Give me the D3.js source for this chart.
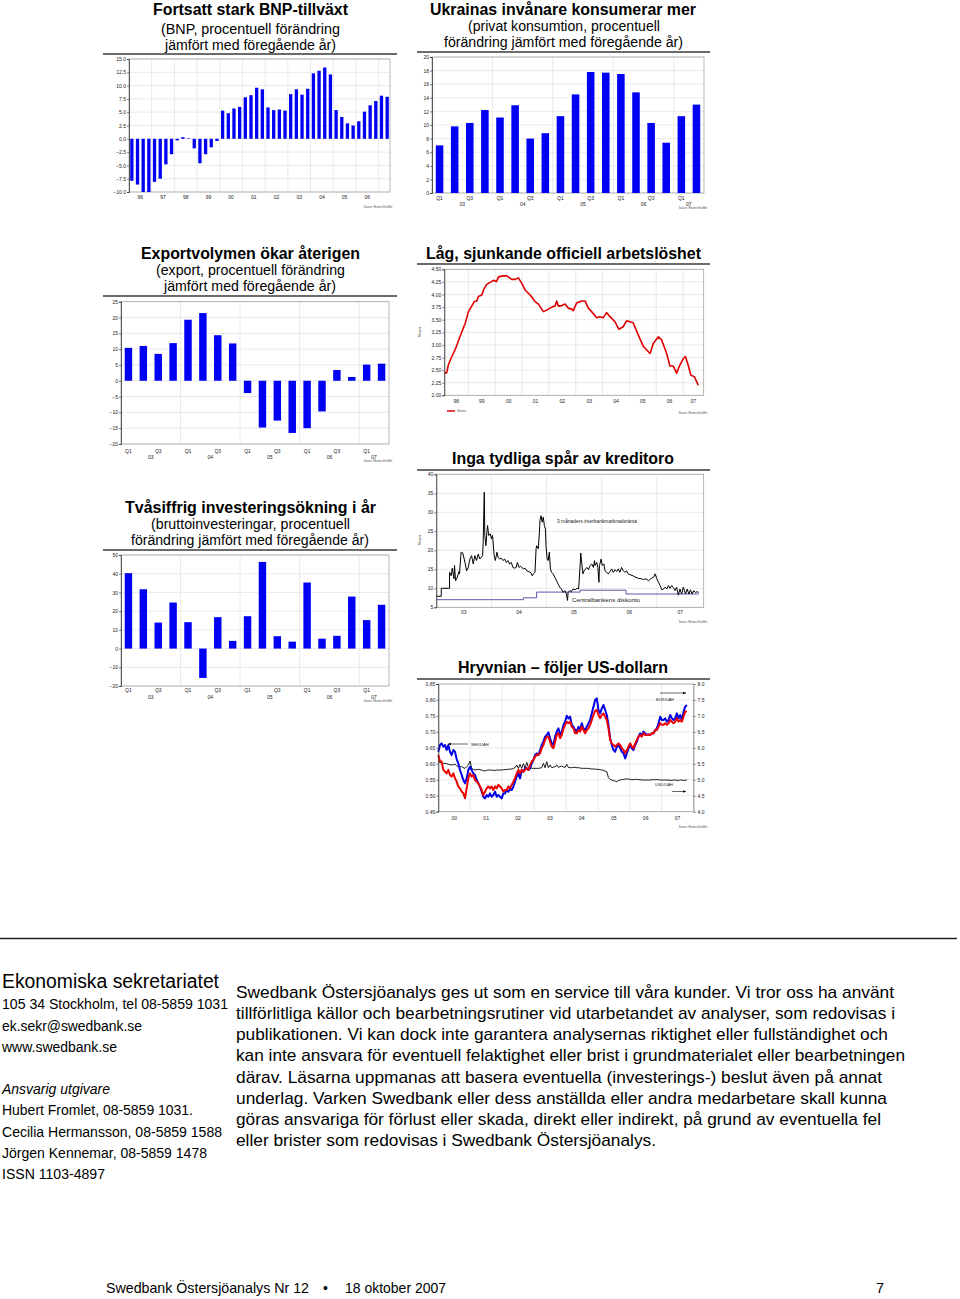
<!DOCTYPE html>
<html><head><meta charset="utf-8">
<script src="https://cdn.jsdelivr.net/npm/d3@7"></script>
<style>body{margin:0;background:#fff}svg{display:block}text{font-family:"Liberation Sans",Arial,Helvetica,sans-serif}</style>
</head><body>
<svg id="page" width="960" height="1299"></svg>
<script>
// ---------------- DATA ----------------
const gdpYears = ["96","97","98","99","00","01","02","03","04","05","06","07"];
const gdpValues = [-7.9,-8.6,-10.0,-10.0, -8.1,-7.5,-4.8,-2.9, -0.3,0.3,0.1,-1.8, -4.6,-2.9,-1.6,-0.4,
  5.3,4.8,5.7,6.0, 7.8,8.2,9.6,9.3, 5.9,5.4,5.5,5.3, 8.4,9.3,8.3,9.4, 12.3,12.8,13.4,12.1,
  5.4,4.1,2.9,2.5, 3.3,5.1,6.3,7.1, 8.1,7.9];
const gdpTicks = [-10,-7.5,-5,-2.5,0,2.5,5,7.5,10,12.5,15];

const qYears = ["03","04","05","06","07"];
const quarterCats = ["03Q1","03Q2","03Q3","03Q4","04Q1","04Q2","04Q3","04Q4","05Q1","05Q2","05Q3","05Q4","06Q1","06Q2","06Q3","06Q4","07Q1","07Q2"];
const consValues = [7.0,9.8,10.3,12.2,11.1,12.9,8.0,8.8,11.3,14.5,17.8,17.7,17.5,14.8,10.3,7.4,11.3,13.0];
const consTicks = [0,2,4,6,8,10,12,14,16,18,20];
const expValues = [10.4,11.0,8.5,11.9,19.3,21.4,14.4,11.8,-3.9,-14.8,-12.6,-16.5,-15.0,-9.7,3.4,1.2,5.1,5.4];
const expTicks = [-20,-15,-10,-5,0,5,10,15,20,25];
const invValues = [40.3,31.7,13.9,24.6,14.1,-15.7,16.8,4.1,17.3,46.3,6.6,3.7,35.3,5.3,6.8,27.8,15.2,23.4];
const invTicks = [-20,-10,0,10,20,30,40,50];

// unemployment [year, percent]
const unemployment = [[1998.11,2.44],[1998.19,2.45],[1998.25,2.60],[1998.38,2.77],[1998.50,2.90],[1998.69,3.17],[1998.88,3.43],[1999.00,3.66],[1999.12,3.77],[1999.22,3.86],
 [1999.31,3.87],[1999.37,3.96],[1999.50,3.99],[1999.56,4.09],[1999.68,4.20],[1999.81,4.24],[1999.93,4.28],[2000.05,4.26],[2000.12,4.35],[2000.30,4.37],
 [2000.43,4.37],[2000.51,4.34],[2000.61,4.30],[2000.74,4.30],[2000.86,4.33],[2000.99,4.22],[2001.11,4.09],[2001.30,3.99],[2001.48,3.86],[2001.61,3.81],
 [2001.79,3.66],[2001.92,3.69],[2002.04,3.73],[2002.16,3.76],[2002.23,3.77],[2002.29,3.87],[2002.35,3.77],[2002.48,3.78],[2002.60,3.81],[2002.72,3.73],
 [2002.85,3.71],[2002.91,3.68],[2003.03,3.83],[2003.22,3.87],[2003.35,3.87],[2003.47,3.73],[2003.59,3.66],[2003.78,3.54],[2003.90,3.56],[2004.03,3.54],
 [2004.15,3.64],[2004.28,3.56],[2004.46,3.46],[2004.61,3.31],[2004.77,3.36],[2004.90,3.48],[2005.02,3.46],[2005.14,3.44],[2005.33,3.20],[2005.52,2.97],
 [2005.70,2.87],[2005.77,2.83],[2005.89,3.03],[2006.08,3.16],[2006.20,3.10],[2006.39,2.83],[2006.51,2.58],[2006.64,2.58],[2006.76,2.44],[2006.88,2.60],
 [2007.01,2.73],[2007.09,2.77],[2007.19,2.60],[2007.29,2.40],[2007.42,2.37],[2007.57,2.20]];
const unempTicks = [2.00,2.25,2.50,2.75,3.00,3.25,3.50,3.75,4.00,4.25,4.50];
const unempYears = [1998,1999,2000,2001,2002,2003,2004,2005,2006,2007];

// interbank 3M rate [year, percent]
const interbank = [[2002.98,7.9],[2003.09,7.9],[2003.09,10.0],[2003.24,10.0],[2003.24,14.2],[2003.27,13.3],[2003.29,15.3],[2003.32,12.5],[2003.33,16.0],[2003.35,12.0],
 [2003.38,12.9],[2003.41,14.4],[2003.42,13.8],[2003.45,19.5],[2003.48,19.3],[2003.52,16.8],[2003.55,14.6],[2003.58,15.5],[2003.61,17.7],[2003.64,18.6],
 [2003.67,16.4],[2003.70,18.6],[2003.73,17.3],[2003.76,19.0],[2003.79,17.7],[2003.82,18.2],[2003.84,18.6],[2003.85,22.1],[2003.87,35.3],[2003.88,23.9],
 [2003.90,21.2],[2003.92,25.2],[2003.93,26.5],[2003.95,23.9],[2003.98,24.3],[2004.00,23.0],[2004.02,23.9],[2004.05,18.6],[2004.07,17.3],[2004.10,19.5],
 [2004.12,18.2],[2004.15,17.7],[2004.18,17.9],[2004.21,17.3],[2004.24,17.7],[2004.27,16.8],[2004.30,17.3],[2004.33,16.4],[2004.36,16.8],[2004.39,15.5],
 [2004.42,15.3],[2004.45,15.5],[2004.47,16.8],[2004.50,15.5],[2004.53,15.8],[2004.58,15.1],[2004.61,15.3],[2004.64,14.6],[2004.68,14.4],[2004.72,14.0],
 [2004.74,13.3],[2004.76,13.8],[2004.79,14.2],[2004.81,20.4],[2004.82,21.2],[2004.85,20.4],[2004.87,24.7],[2004.88,27.8],[2004.90,29.1],[2004.92,27.4],
 [2004.94,28.7],[2004.96,26.5],[2004.98,25.6],[2004.99,21.2],[2005.01,17.7],[2005.03,17.3],[2005.05,19.5],[2005.07,15.1],[2005.09,14.2],[2005.12,13.8],
 [2005.15,12.9],[2005.18,12.0],[2005.21,11.1],[2005.24,10.3],[2005.27,9.8],[2005.30,8.9],[2005.33,9.4],[2005.36,8.5],[2005.38,6.8],[2005.39,8.9],
 [2005.42,9.4],[2005.45,9.1],[2005.48,9.8],[2005.52,9.6],[2005.55,10.0],[2005.58,9.8],[2005.59,11.6],[2005.61,16.4],[2005.62,19.3],[2005.64,16.4],
 [2005.66,13.8],[2005.68,14.6],[2005.71,15.1],[2005.73,15.5],[2005.76,14.9],[2005.79,16.0],[2005.82,16.4],[2005.85,15.5],[2005.87,17.3],[2005.88,16.0],
 [2005.91,16.8],[2005.93,15.5],[2005.95,11.6],[2005.96,16.0],[2005.99,17.7],[2006.01,16.0],[2006.04,16.4],[2006.06,14.6],[2006.09,14.2],[2006.12,13.8],
 [2006.15,14.4],[2006.18,15.1],[2006.21,14.2],[2006.24,14.9],[2006.27,14.4],[2006.30,15.1],[2006.33,14.2],[2006.36,15.5],[2006.39,14.6],[2006.42,14.2],
 [2006.45,14.6],[2006.48,13.8],[2006.53,13.5],[2006.58,13.2],[2006.62,12.9],[2006.67,12.6],[2006.72,12.5],[2006.76,12.3],[2006.80,12.5],[2006.85,12.0],
 [2006.90,12.6],[2006.94,12.9],[2006.97,13.8],[2007.00,12.5],[2007.03,11.6],[2007.06,10.7],[2007.09,9.6],[2007.12,9.8],[2007.15,10.3],[2007.18,9.8],
 [2007.21,10.7],[2007.24,10.0],[2007.27,10.7],[2007.30,10.2],[2007.33,9.4],[2007.36,10.3],[2007.39,8.2],[2007.42,9.8],[2007.45,8.5],[2007.48,10.3],
 [2007.52,8.5],[2007.55,9.8],[2007.58,8.5],[2007.61,9.6],[2007.64,8.5],[2007.67,9.4],[2007.70,8.9],[2007.73,9.1],[2007.76,8.9]];
const discount = [[2002.98,7.0],[2004.58,7.5],[2004.82,9.0],[2005.61,9.5],[2006.44,8.5],[2007.76,8.5]];
const creditTicks = [5,10,15,20,25,30,35,40];
const creditYears = [2003,2004,2005,2006,2007];

// exchange rates, sampled every fxStep years from fxStart
const fxStart = 2000.0, fxStep = 0.0523;
const sekUah = [0.628,0.607,0.607,0.581,0.576,0.570,0.581,0.565,0.560,0.570, 0.555,0.544,0.529,0.523,0.513,0.508,0.492,0.523,0.555,0.570,
 0.560,0.565,0.549,0.544,0.539,0.529,0.518,0.502,0.513,0.523, 0.529,0.523,0.529,0.518,0.529,0.523,0.534,0.529,0.523,0.513,
 0.518,0.518,0.529,0.523,0.534,0.544,0.555,0.570,0.581,0.570, 0.581,0.576,0.581,0.586,0.581,0.596,0.607,0.612,0.622,0.628,
 0.628,0.633,0.649,0.659,0.675,0.685,0.685,0.669,0.654,0.649, 0.669,0.690,0.696,0.680,0.690,0.709,0.722,0.732,0.727,0.732,
 0.716,0.711,0.696,0.696,0.706,0.701,0.716,0.706,0.696,0.706, 0.711,0.722,0.737,0.753,0.765,0.769,0.753,0.743,0.753,0.758,
 0.748,0.737,0.711,0.675,0.664,0.659,0.654,0.659,0.664,0.659, 0.649,0.643,0.633,0.643,0.654,0.664,0.654,0.649,0.664,0.675,
 0.685,0.690,0.685,0.696,0.690,0.690,0.692,0.690,0.696,0.696, 0.706,0.706,0.716,0.727,0.722,0.722,0.727,0.722,0.727,0.737,
 0.732,0.727,0.732,0.743,0.732,0.737,0.732,0.748,0.763,0.765];
const eurUah = [5.880,6.089,6.141,6.037,6.089,5.932,6.089,5.880,5.775,5.932, 5.880,5.650,5.514,5.305,5.149,4.992,4.888,5.044,5.305,5.410,
 5.305,5.201,5.149,4.992,4.888,4.783,4.627,4.470,4.418,4.522, 4.470,4.574,4.470,4.522,4.627,4.470,4.522,4.470,4.418,4.574,
 4.574,4.679,4.627,4.710,4.679,4.783,4.940,5.097,5.201,5.044, 5.305,5.253,5.358,5.358,5.305,5.358,5.514,5.619,5.775,5.828,
 5.775,5.932,6.089,6.193,6.350,6.402,6.486,6.298,6.141,6.089, 6.350,6.507,6.611,6.402,6.507,6.715,6.820,7.008,6.924,6.977,
 6.715,6.663,6.559,6.507,6.663,6.559,6.768,6.611,6.559,6.663, 6.768,6.872,7.081,7.290,7.499,7.551,7.185,7.081,7.238,7.342,
 7.185,7.029,6.715,6.298,6.089,5.932,5.880,6.037,6.089,5.984, 5.880,5.828,5.671,5.828,5.984,6.089,5.984,5.932,6.089,6.193,
 6.350,6.454,6.402,6.507,6.454,6.402,6.423,6.402,6.454,6.454, 6.559,6.611,6.768,6.977,6.872,6.872,6.924,6.820,6.872,7.029,
 6.924,6.872,6.924,7.081,6.924,7.029,6.872,7.133,7.290,7.342];
const usdUah = [5.567,5.546,5.514,5.514,5.514,5.504,5.483,5.473,5.462,5.473, 5.483,5.441,5.410,5.410,5.410,5.379,5.358,5.410,5.462,5.587,
 5.358,5.326,5.305,5.316,5.326,5.316,5.305,5.285,5.274,5.295, 5.305,5.305,5.305,5.295,5.295,5.305,5.305,5.305,5.305,5.316,
 5.316,5.326,5.326,5.337,5.337,5.358,5.379,5.462,5.358,5.483, 5.358,5.504,5.358,5.546,5.379,5.410,5.358,5.358,5.358,5.358,
 5.358,5.368,5.379,5.514,5.379,5.567,5.379,5.462,5.379,5.399, 5.410,5.462,5.389,5.410,5.431,5.399,5.389,5.483,5.389,5.379,
 5.379,5.389,5.389,5.379,5.379,5.368,5.358,5.358,5.358,5.358, 5.358,5.347,5.337,5.337,5.337,5.326,5.326,5.316,5.305,5.295,
 5.274,5.253,5.065,5.013,4.992,4.971,4.961,4.940,4.982,4.992, 5.003,5.013,5.024,5.024,5.024,5.013,5.003,5.003,5.013,5.013,
 5.003,5.003,4.992,4.992,4.992,4.992,4.992,4.992,5.003,5.003, 5.003,5.003,5.003,4.992,4.992,4.992,4.992,4.992,4.992,4.982,
 4.982,4.992,4.992,4.982,4.982,4.992,4.992,4.982,4.982,5.003];
const fxLeftTicks = [0.45,0.50,0.55,0.60,0.65,0.70,0.75,0.80,0.85];
const fxRightTicks = [4.0,4.5,5.0,5.5,6.0,6.5,7.0,7.5,8.0];
const fxYears = [2000,2001,2002,2003,2004,2005,2006,2007];

// ---------------- HELPERS ----------------
const page = d3.select("#page");
const GRID = "#dcdcdc", FRAME = "#9a9a9a", TICKC = "#222";

function addText(s, x, y, size, o = {}) {
  const t = page.append("text").attr("x", x).attr("y", y).attr("font-size", size).attr("fill", o.fill || "#000").text(s);
  if (o.bold) t.attr("font-weight", "bold");
  if (o.italic) t.attr("font-style", "italic");
  if (o.anchor) t.attr("text-anchor", o.anchor);
  if (o.w) t.attr("textLength", o.w).attr("lengthAdjust", "spacingAndGlyphs");
  if (o.rot) t.attr("transform", `rotate(${o.rot},${x},${y})`);
  return t;
}
function header(lines, ruleY, rx0, rx1) {
  lines.forEach(l => addText(l.s, l.x0, l.y, l.size, {bold: l.bold, w: l.x1 - l.x0}));
  page.append("line").attr("x1", rx0).attr("x2", rx1).attr("y1", ruleY).attr("y2", ruleY)
    .attr("stroke", "#3a3a3a").attr("stroke-width", 1.6);
}
function source(x, y) {
  addText("Source: Reuters EcoWin", x, y, 2.6, {anchor: "middle", fill: "#444"});
}
function styleAxis(g) {
  g.selectAll("text").attr("font-size", 5).attr("fill", TICKC);
  g.selectAll(".tick line").attr("stroke", "#333").attr("stroke-width", 0.6);
  g.select(".domain").attr("stroke", "#333").attr("stroke-width", 0.8);
}
function hGrid(g, y, ticks, x0, x1) {
  g.selectAll(null).data(ticks).join("line").attr("x1", x0).attr("x2", x1)
    .attr("y1", d => y(d)).attr("y2", d => y(d)).attr("stroke", GRID).attr("stroke-width", 0.6);
}
function vGrid(g, xs, y0, y1) {
  g.selectAll(null).data(xs).join("line").attr("x1", d => d).attr("x2", d => d)
    .attr("y1", y0).attr("y2", y1).attr("stroke", GRID).attr("stroke-width", 0.6);
}
function frame(g, x0, x1, yT, yB) {
  g.append("rect").attr("x", x0).attr("y", yT).attr("width", x1 - x0).attr("height", yB - yT)
    .attr("fill", "none").attr("stroke", FRAME).attr("stroke-width", 0.7);
}

function barChart(o) {
  const g = page.append("g");
  const x = d3.scaleBand().domain(o.cats).range([o.x0, o.x1]).paddingInner(o.pad).paddingOuter(o.pad / 2);
  const y = d3.scaleLinear().domain([o.ticks[0], o.ticks[o.ticks.length - 1]]).range([o.yB, o.yT]);
  const cellStart = c => x(c) - x.step() * o.pad / 2;
  hGrid(g, y, o.ticks, o.x0, o.x1);
  const bounds = o.cats.filter((c, i) => i > 0 && c.endsWith("Q1")).map(cellStart);
  vGrid(g, bounds, o.yT, o.yB);
  frame(g, o.x0, o.x1, o.yT, o.yB);
  g.selectAll(null).data(o.cats.map((c, i) => ({c, v: o.values[i]}))).join("rect")
    .attr("x", d => x(d.c)).attr("width", x.bandwidth())
    .attr("y", d => Math.min(y(d.v), y(0))).attr("height", d => Math.abs(y(d.v) - y(0)))
    .attr("fill", "#0000f5");
  const ax = g.append("g").attr("transform", `translate(${o.x0},0)`)
    .call(d3.axisLeft(y).tickValues(o.ticks).tickFormat(o.fmt).tickSize(2).tickPadding(1));
  styleAxis(ax);
  const yearsSeen = [...new Set(o.cats.map(c => c.slice(0, 2)))];
  if (o.quarterLabels) {
    o.cats.forEach(c => {
      const q = c.slice(2);
      if (q === "Q1" || q === "Q3")
        addText(q, x(c) + x.bandwidth() / 2, o.qY, 5, {anchor: "middle", fill: TICKC});
    });
  }
  yearsSeen.forEach((yr, i) => {
    if (o.skipLastYear && i === yearsSeen.length - 1) return;
    const cs = o.cats.filter(c => c.startsWith(yr));
    const a = cellStart(cs[0]), b = cellStart(cs[cs.length - 1]) + x.step();
    addText(yr, (a + b) / 2, o.yrY, 5, {anchor: "middle", fill: TICKC});
  });
}

function yearLabels(x, years, x0, x1, yPos) {
  years.forEach(yr => {
    const a = Math.max(x(yr), x0), b = Math.min(x(yr + 1), x1);
    addText(String(yr).slice(2), (a + b) / 2, yPos, 5, {anchor: "middle", fill: TICKC});
  });
}

// ---------------- CHART 1: BNP ----------------
header([
  {s: "Fortsatt stark BNP-tillväxt", x0: 153, x1: 348, y: 15, size: 16, bold: true},
  {s: "(BNP, procentuell förändring", x0: 161, x1: 340, y: 34, size: 14},
  {s: "jämfört med föregående år)", x0: 165, x1: 336, y: 50, size: 14}
], 54, 103, 397);
barChart({
  cats: gdpYears.flatMap(yy => ["Q1", "Q2", "Q3", "Q4"].map(q => yy + q)).slice(0, gdpValues.length),
  values: gdpValues, ticks: gdpTicks, fmt: d3.format(".1f"),
  x0: 129, x1: 390, yT: 59, yB: 192, pad: 0.42, yrY: 199, skipLastYear: true
});
source(378, 208);

// ---------------- CHART 2: Consumption ----------------
header([
  {s: "Ukrainas invånare konsumerar mer", x0: 430, x1: 696, y: 15, size: 16, bold: true},
  {s: "(privat konsumtion, procentuell", x0: 468, x1: 660, y: 31, size: 14},
  {s: "förändring jämfört med föregående år)", x0: 444, x1: 683, y: 47, size: 14}
], 52, 417, 710);
barChart({cats: quarterCats, values: consValues, ticks: consTicks, fmt: d3.format("d"),
  x0: 432, x1: 704, yT: 57, yB: 193, pad: 0.5, quarterLabels: true, qY: 200, yrY: 206});
source(693, 209);

// ---------------- CHART 3: Export ----------------
header([
  {s: "Exportvolymen ökar återigen", x0: 141, x1: 360, y: 259, size: 16, bold: true},
  {s: "(export, procentuell förändring", x0: 156, x1: 345, y: 275, size: 14},
  {s: "jämfört med föregående år)", x0: 164, x1: 336, y: 291, size: 14}
], 296, 103, 397);
barChart({cats: quarterCats, values: expValues, ticks: expTicks, fmt: d3.format("d"),
  x0: 121, x1: 389, yT: 301.7, yB: 444, pad: 0.5, quarterLabels: true, qY: 453, yrY: 459});
source(378, 462);

// ---------------- CHART 5: Investment ----------------
header([
  {s: "Tvåsiffrig investeringsökning i år", x0: 125, x1: 376, y: 513, size: 16, bold: true},
  {s: "(bruttoinvesteringar, procentuell", x0: 151, x1: 350, y: 529, size: 14},
  {s: "förändring jämfört med föregående år)", x0: 131, x1: 369, y: 545, size: 14}
], 550, 103, 397);
barChart({cats: quarterCats, values: invValues, ticks: invTicks, fmt: d3.format("d"),
  x0: 121, x1: 389, yT: 555, yB: 686, pad: 0.5, quarterLabels: true, qY: 692, yrY: 699});
source(378, 702);

// ---------------- CHART 4: Unemployment ----------------
header([{s: "Låg, sjunkande officiell arbetslöshet", x0: 426, x1: 701, y: 259, size: 16, bold: true}], 264, 417, 710);
(function () {
  const x0 = 444.3, x1 = 703.7, yT = 269.3, yB = 395.3;
  const g = page.append("g");
  const x = d3.scaleLinear().domain([1998.1, 2007.77]).range([x0, x1]);
  const y = d3.scaleLinear().domain([2, 4.5]).range([yB, yT]);
  hGrid(g, y, unempTicks, x0, x1);
  vGrid(g, unempYears.slice(1).map(x), yT, yB);
  frame(g, x0, x1, yT, yB);
  g.append("path").datum(unemployment).attr("fill", "none").attr("stroke", "#e00000").attr("stroke-width", 1.6)
    .attr("stroke-linejoin", "round").attr("d", d3.line().x(d => x(d[0])).y(d => y(d[1])));
  const ax = g.append("g").attr("transform", `translate(${x0},0)`)
    .call(d3.axisLeft(y).tickValues(unempTicks).tickFormat(d3.format(".2f")).tickSize(2).tickPadding(1));
  styleAxis(ax);
  yearLabels(x, unempYears, x0, x1, 403);
  addText("Percent", 421, 332, 3, {anchor: "middle", rot: -90, fill: "#444"});
  page.append("line").attr("x1", 447).attr("x2", 455).attr("y1", 411).attr("y2", 411).attr("stroke", "#e00000").attr("stroke-width", 1.5);
  addText("Ukraina", 457, 412, 2.6, {fill: "#444"});
  source(693, 414);
})();

// ---------------- CHART 6: Credit ----------------
header([{s: "Inga tydliga spår av kreditoro", x0: 452, x1: 674, y: 464, size: 16, bold: true}], 470, 417, 710);
(function () {
  const x0 = 436.3, x1 = 703.7, yT = 474.3, yB = 607.3;
  const g = page.append("g");
  const x = d3.scaleLinear().domain([2003.0, 2007.85]).range([x0, x1]);
  const y = d3.scaleLinear().domain([5, 40]).range([yB, yT]);
  hGrid(g, y, creditTicks, x0, x1);
  vGrid(g, creditYears.slice(1).map(x), yT, yB);
  frame(g, x0, x1, yT, yB);
  g.append("path").datum(discount).attr("fill", "none").attr("stroke", "#4646a0").attr("stroke-width", 0.9)
    .attr("d", d3.line().curve(d3.curveStepAfter).x(d => Math.max(x0, x(d[0]))).y(d => y(d[1])));
  g.append("path").datum(interbank).attr("fill", "none").attr("stroke", "#000").attr("stroke-width", 1.0)
    .attr("d", d3.line().x(d => Math.max(x0, x(d[0]))).y(d => y(d[1])));
  const ax = g.append("g").attr("transform", `translate(${x0},0)`)
    .call(d3.axisLeft(y).tickValues(creditTicks).tickFormat(d3.format("d")).tickSize(2).tickPadding(1));
  styleAxis(ax);
  yearLabels(x, creditYears, x0, x1, 614);
  addText("Percent", 421, 540, 3, {anchor: "middle", rot: -90, fill: "#444"});
  addText("3 månaders interbankmarknadsränta", 557, 523, 4.5, {w: 80, fill: "#222"});
  addText("Centralbankens diskonto", 572, 602, 4.5, {w: 68, fill: "#222"});
  source(693, 623);
})();

// ---------------- CHART 7: Hryvnia ----------------
header([{s: "Hryvnian – följer US-dollarn", x0: 458, x1: 668, y: 673, size: 16, bold: true}], 679, 417, 710);
(function () {
  const x0 = 438.3, x1 = 693.5, yT = 684, yB = 811.7;
  const g = page.append("g");
  const x = d3.scaleLinear().domain([2000, 2008]).range([x0, x1]);
  const yL = d3.scaleLinear().domain([0.45, 0.85]).range([yB, yT]);
  const yR = d3.scaleLinear().domain([4, 8]).range([yB, yT]);
  hGrid(g, yL, fxLeftTicks, x0, x1);
  vGrid(g, fxYears.slice(1).map(x), yT, yB);
  frame(g, x0, x1, yT, yB);
  const t = i => fxStart + i * fxStep;
  g.append("path").datum(usdUah).attr("fill", "none").attr("stroke", "#000").attr("stroke-width", 0.9)
    .attr("d", d3.line().x((d, i) => x(t(i))).y(d => yR(d)));
  g.append("path").datum(eurUah).attr("fill", "none").attr("stroke", "#0000e6").attr("stroke-width", 2)
    .attr("stroke-linejoin", "round").attr("d", d3.line().x((d, i) => x(t(i))).y(d => yR(d)));
  g.append("path").datum(sekUah).attr("fill", "none").attr("stroke", "#ee0000").attr("stroke-width", 2)
    .attr("stroke-linejoin", "round").attr("d", d3.line().x((d, i) => x(t(i))).y(d => yL(d)));
  const axL = g.append("g").attr("transform", `translate(${x0},0)`)
    .call(d3.axisLeft(yL).tickValues(fxLeftTicks).tickFormat(d3.format(".2f")).tickSize(2).tickPadding(1));
  styleAxis(axL);
  const axR = g.append("g").attr("transform", `translate(${x1},0)`)
    .call(d3.axisRight(yR).tickValues(fxRightTicks).tickFormat(d3.format(".1f")).tickSize(2).tickPadding(2));
  styleAxis(axR);
  axR.select(".domain").attr("stroke", FRAME).attr("stroke-width", 0.7);
  yearLabels(x, fxYears, x0, x1, 820);
  function arrow(xa, xb, yy) {
    page.append("line").attr("x1", xa).attr("x2", xb).attr("y1", yy).attr("y2", yy).attr("stroke", "#000").attr("stroke-width", 0.6);
    const dir = Math.sign(xb - xa);
    page.append("path").attr("d", `M${xb},${yy}L${xb - dir * 3},${yy - 1.2}L${xb - dir * 3},${yy + 1.2}Z`).attr("fill", "#000");
  }
  arrow(468, 448, 744);
  addText("SEK/UAH", 471, 745.5, 4, {fill: "#222"});
  arrow(660, 686, 693);
  addText("EUR/UAH", 656, 701, 4, {fill: "#222"});
  addText("USD/UAH", 655, 786, 4, {fill: "#222"});
  arrow(672, 686, 791.5);
  source(693, 828);
})();

// ---------------- BOTTOM TEXT ----------------
page.append("line").attr("x1", 0).attr("x2", 957).attr("y1", 938.5).attr("y2", 938.5).attr("stroke", "#222").attr("stroke-width", 1.5);
addText("Ekonomiska sekretariatet", 2, 988, 20, {w: 217});
const leftLines = [
  ["105 34 Stockholm, tel 08-5859 1031", 1009, 226, false],
  ["ek.sekr@swedbank.se", 1031, 140, false],
  ["www.swedbank.se", 1052, 115, false],
  ["Ansvarig utgivare", 1094, 108, true],
  ["Hubert Fromlet, 08-5859 1031.", 1115, 191, false],
  ["Cecilia Hermansson, 08-5859 1588", 1137, 220, false],
  ["Jörgen Kennemar, 08-5859 1478", 1158, 205, false],
  ["ISSN 1103-4897", 1179, 103, false]
];
leftLines.forEach(l => addText(l[0], 2, l[1], 14, {w: l[2], italic: l[3]}));
const rightLines = [
  ["Swedbank Östersjöanalys ges ut som en service till våra kunder. Vi tror oss ha använt", 658],
  ["tillförlitliga källor och bearbetningsrutiner vid utarbetandet av analyser, som redovisas i", 659],
  ["publikationen. Vi kan dock inte garantera analysernas riktighet eller fullständighet och", 652],
  ["kan inte ansvara för eventuell felaktighet eller brist i grundmaterialet eller bearbetningen", 669],
  ["därav. Läsarna uppmanas att basera eventuella (investerings-) beslut även på annat", 646],
  ["underlag. Varken Swedbank eller dess anställda eller andra medarbetare skall kunna", 651],
  ["göras ansvariga för förlust eller skada, direkt eller indirekt, på grund av eventuella fel", 645],
  ["eller brister som redovisas i Swedbank Östersjöanalys.", 420]
];
rightLines.forEach((l, i) => addText(l[0], 236, 998 + i * 21.15, 17, {w: l[1]}));
addText("Swedbank Östersjöanalys Nr 12", 106, 1293, 14.5, {w: 203});
addText("•", 323, 1293, 14);
addText("18 oktober 2007", 345, 1293, 14.5, {w: 101});
addText("7", 876, 1293, 14.5);
</script>
</body></html>
